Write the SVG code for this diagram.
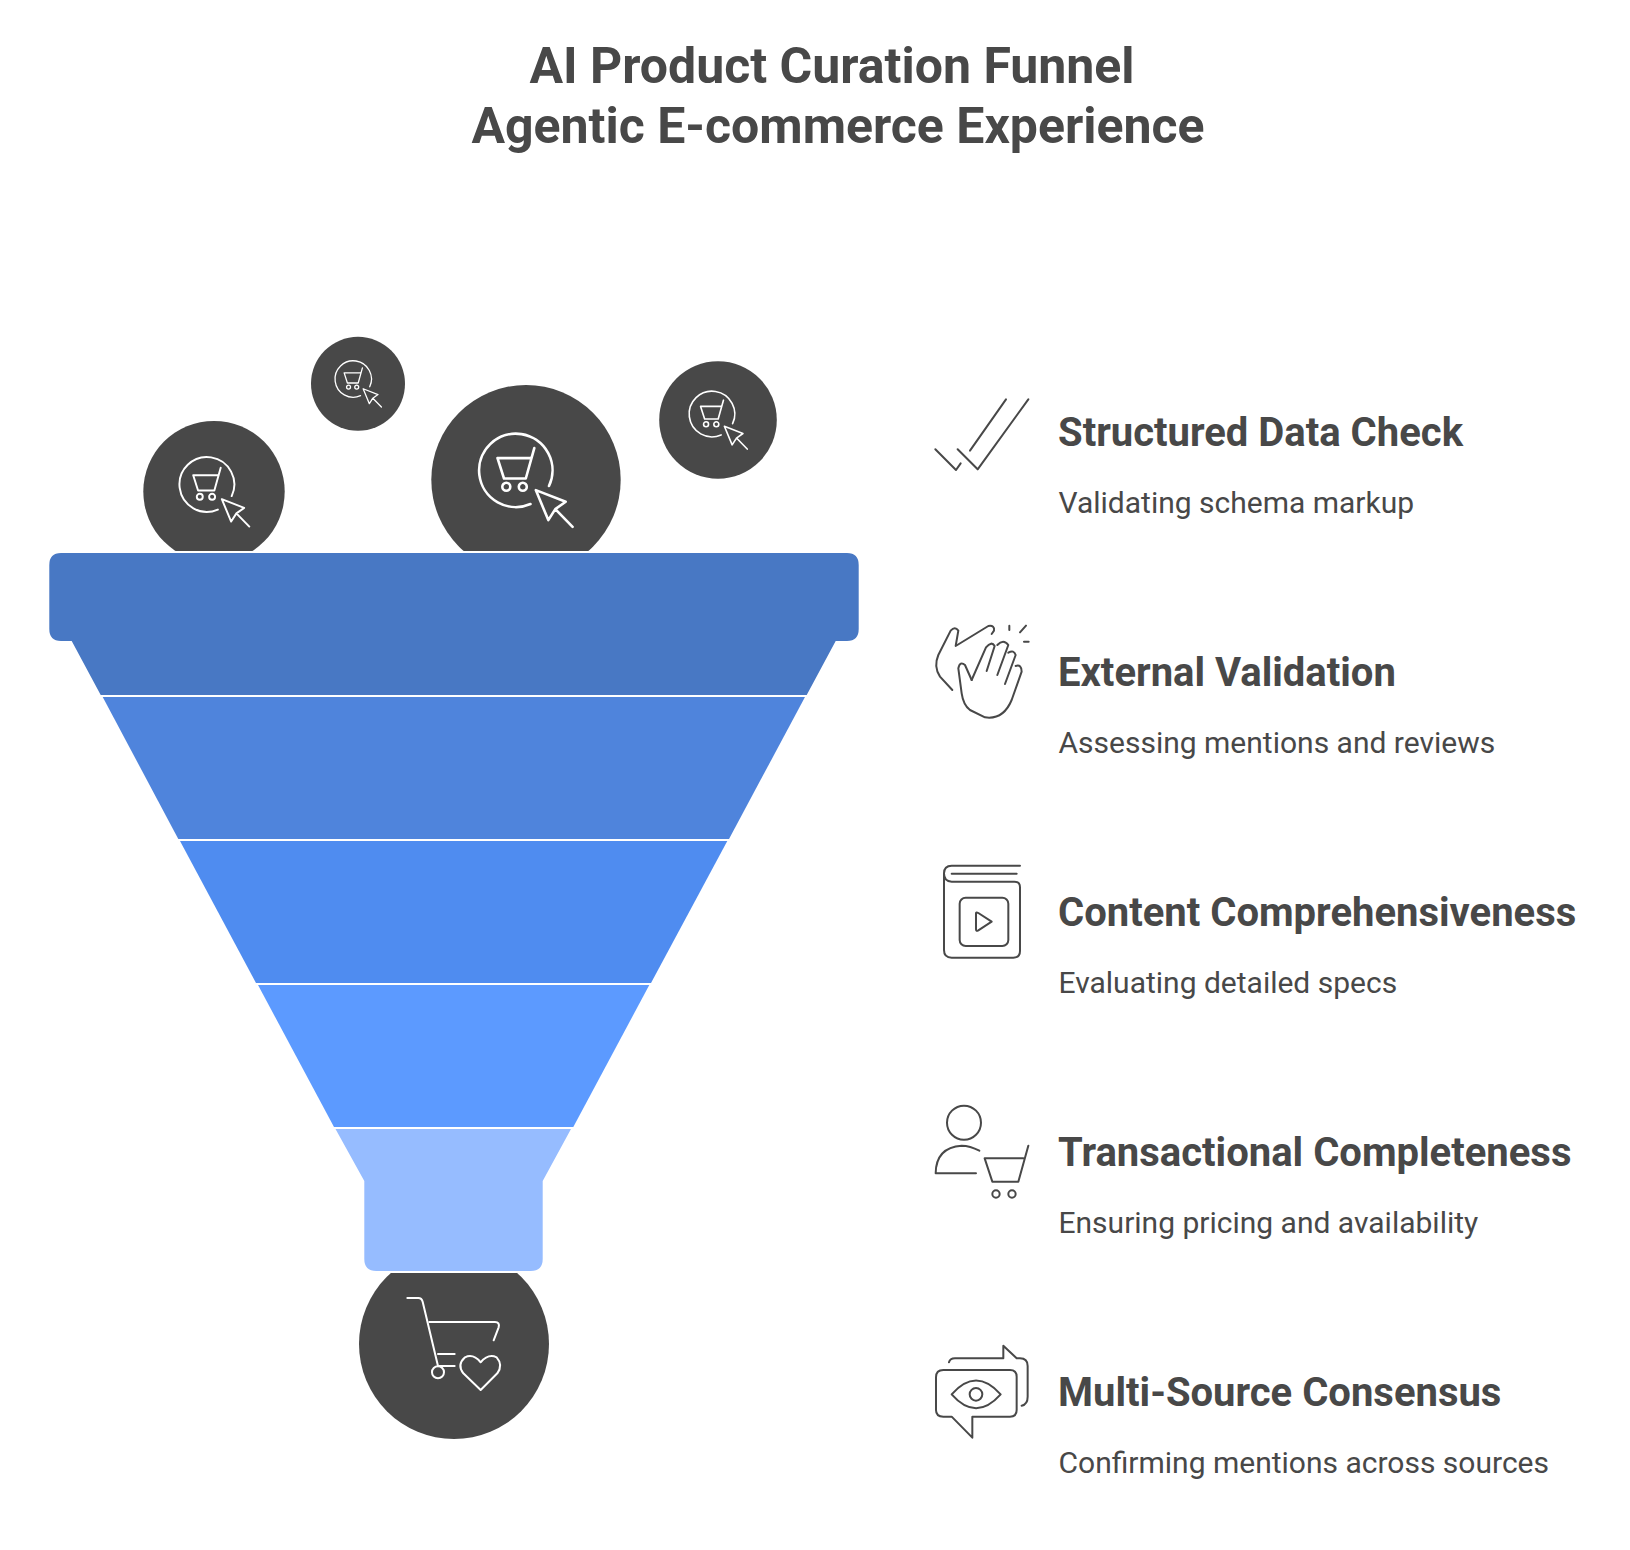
<svg xmlns="http://www.w3.org/2000/svg" xmlns:xlink="http://www.w3.org/1999/xlink" width="1630" height="1550" viewBox="0 0 1630 1550">
<style>
text{font-family:Roboto,"Liberation Sans",sans-serif;fill:#484848}
.title{font-size:50px;font-weight:700;text-anchor:middle}
.head{font-size:40px;font-weight:700}
.desc{font-size:30px;font-weight:400}
.ball{fill:#484848}
.w{fill:none;stroke:#fff;stroke-width:2.6;stroke-linecap:round;stroke-linejoin:round}
.wz{fill:none;stroke:#fff;stroke-width:6;stroke-linecap:round;stroke-linejoin:round}
.ic{fill:none;stroke:#484848;stroke-width:6;stroke-linecap:round;stroke-linejoin:round}
</style>
<defs>
<clipPath id="topClip"><rect x="0" y="0" width="1630" height="551"/></clipPath>
<clipPath id="botClip"><rect x="0" y="1273" width="1630" height="277"/></clipPath>
<g id="cartCursor" class="w">
<path d="M23,5.5 A36.7,36.7 0 1 0 4.5,23.5"/>
<path d="M-28.5,-22.4 H4.3 M-28.5,-22.4 L-22,-2 H-.2 L8.3,-32.4"/>
<circle cx="-19.7" cy="6.3" r="4"/><circle cx="-3.2" cy="6.3" r="4"/>
<path d="M9.8,9.6 L39.7,21.3 L29.3,28.6 L22.3,39.6 Z M29.3,28.6 L46.6,46.3"/>
</g>
</defs>
<rect width="1630" height="1550" fill="#fff"/>
<g id="title">
<text class="title" x="832" y="83">AI Product Curation Funnel</text>
<text class="title" x="838" y="143">Agentic E-commerce Experience</text>
</g>
<g id="ball-1" clip-path="url(#topClip)"><circle class="ball" cx="214" cy="491.6" r="70.7"/><use href="#cartCursor" transform="translate(214.5,492) scale(.747)"/></g>
<g id="ball-2"><circle class="ball" cx="358" cy="383.8" r="47"/><use href="#cartCursor" transform="translate(358.3,384) scale(.496)"/></g>
<g id="ball-3" clip-path="url(#topClip)"><circle class="ball" cx="526" cy="479.7" r="94.7"/><use href="#cartCursor" transform="translate(526,480.5)"/></g>
<g id="ball-4"><circle class="ball" cx="718" cy="420" r="58.8"/><use href="#cartCursor" transform="translate(718.3,420.3) scale(.621)"/></g>
<g id="funnel">
<path id="band-1" fill="#4878C4" d="M61,553 H847 Q858.7,553 858.7,565 V629 Q858.7,641 847,641 H835.7 L806.7,695 H100.7 L71.7,641 H61 Q49.3,641 49.3,629 V565 Q49.3,553 61,553 Z"/>
<path id="band-2" fill="#4F84DC" d="M102.7,697 H805 L729,839 H178.3 Z"/>
<path id="band-3" fill="#4F8CF0" d="M180,841 H727.3 L651,983 H256 Z"/>
<path id="band-4" fill="#5C9AFF" d="M258,985 H649.3 L573.3,1127 H334 Z"/>
<path id="band-5" fill="#96BCFF" d="M335.5,1129 H571 L542.7,1181 V1259 Q542.7,1271 530.7,1271 H376.3 Q364.3,1271 364.3,1259 V1181 Z"/>
</g>
<g id="ball-out" clip-path="url(#botClip)"><circle class="ball" cx="454" cy="1344" r="95"/></g>
<g id="ball-out-icon" transform="translate(340,1120) scale(.3333)" class="wz">
<path d="M202,534 H235 Q245,534 248,545 L294,738"/>
<path d="M268,606 H465 Q480,606 476,622 L461,661"/>
<path d="M294,702 H344 M298,738 H344"/>
<circle cx="294" cy="757" r="18"/>
<path d="M422,810 L370,760 Q350,735 375,712 Q400,700 422,727 Q445,700 470,712 Q490,735 472,760 Z"/>
</g>
<g id="step-1">
<g class="ic" transform="translate(920,380) scale(.3333)"><path d="M46,208 L108,270 L122,250"/><path d="M113,208 L173,268 L325,58"/><path d="M150,212 L258,58"/></g>
<text class="head" x="1058" y="446">Structured Data Check</text>
<text class="desc" x="1058.5" y="513">Validating schema markup</text>
</g>
<g id="step-2">
<g class="ic" transform="translate(920,610) scale(.3333)">
<path d="M97,240 L60,200 Q40,170 55,135 L92,62 Q105,48 115,62 L107,108 L205,48 Q225,45 222,62 L215,72"/>
<path d="M155,210 L135,165 Q120,152 115,175 L125,250 Q130,285 150,300 L195,322 Q250,330 275,270 L305,185 Q305,162 287,168"/>
<path d="M155,210 L198,112 Q215,92 224,108 L200,183"/>
<path d="M232,105 Q250,85 265,105 L232,195"/>
<path d="M265,128 Q282,118 287,135 L255,222"/>
<path d="M268,47 V60 M318,47 L300,67 M312,95 H326"/>
</g>
<text class="head" x="1058" y="686">External Validation</text>
<text class="desc" x="1058.5" y="753">Assessing mentions and reviews</text>
</g>
<g id="step-3">
<g class="ic" transform="translate(920,850) scale(.3333)">
<path d="M300,47 H95 Q72,47 72,70 V300 Q72,323 95,323 H280 Q300,323 300,303 V112 Q300,95 283,95 H95 Q72,95 72,70"/>
<path d="M95,71 H290"/>
<rect x="119" y="143" width="146" height="145" rx="18"/>
<path d="M168,190 Q168,185 175,189 L215,215 L175,241 Q168,245 168,238 Z"/>
</g>
<text class="head" x="1058" y="926">Content Comprehensiveness</text>
<text class="desc" x="1058.5" y="993">Evaluating detailed specs</text>
</g>
<g id="step-4">
<g class="ic" transform="translate(920,1090) scale(.3333)">
<circle cx="132" cy="98" r="51"/>
<path d="M178,182 Q150,167 125,167 Q48,172 47,250 H168"/>
<path d="M194,205 H310 M194,205 L217,275 H295 L325,167"/>
<circle cx="228" cy="312" r="11"/><circle cx="276" cy="312" r="11"/>
</g>
<text class="head" x="1058" y="1166">Transactional Completeness</text>
<text class="desc" x="1058.5" y="1233">Ensuring pricing and availability</text>
</g>
<g id="step-5">
<g class="ic" transform="translate(920,1335) scale(.3333)">
<path d="M70,105 H270 Q290,105 290,125 V225 Q290,245 270,245 H157 V308 L95,245 H70 Q48,245 48,225 V127 Q48,105 70,105 Z"/>
<path d="M87,82 Q90,70 105,70 H250 V32 L290,70 H300 Q323,70 323,93 V185 Q323,208 305,212"/>
<path d="M95,178 Q168,95 242,178 Q168,261 95,178 Z"/>
<circle cx="168" cy="178" r="19"/>
</g>
<text class="head" x="1058" y="1406">Multi-Source Consensus</text>
<text class="desc" x="1058.5" y="1473">Confirming mentions across sources</text>
</g>
</svg>
